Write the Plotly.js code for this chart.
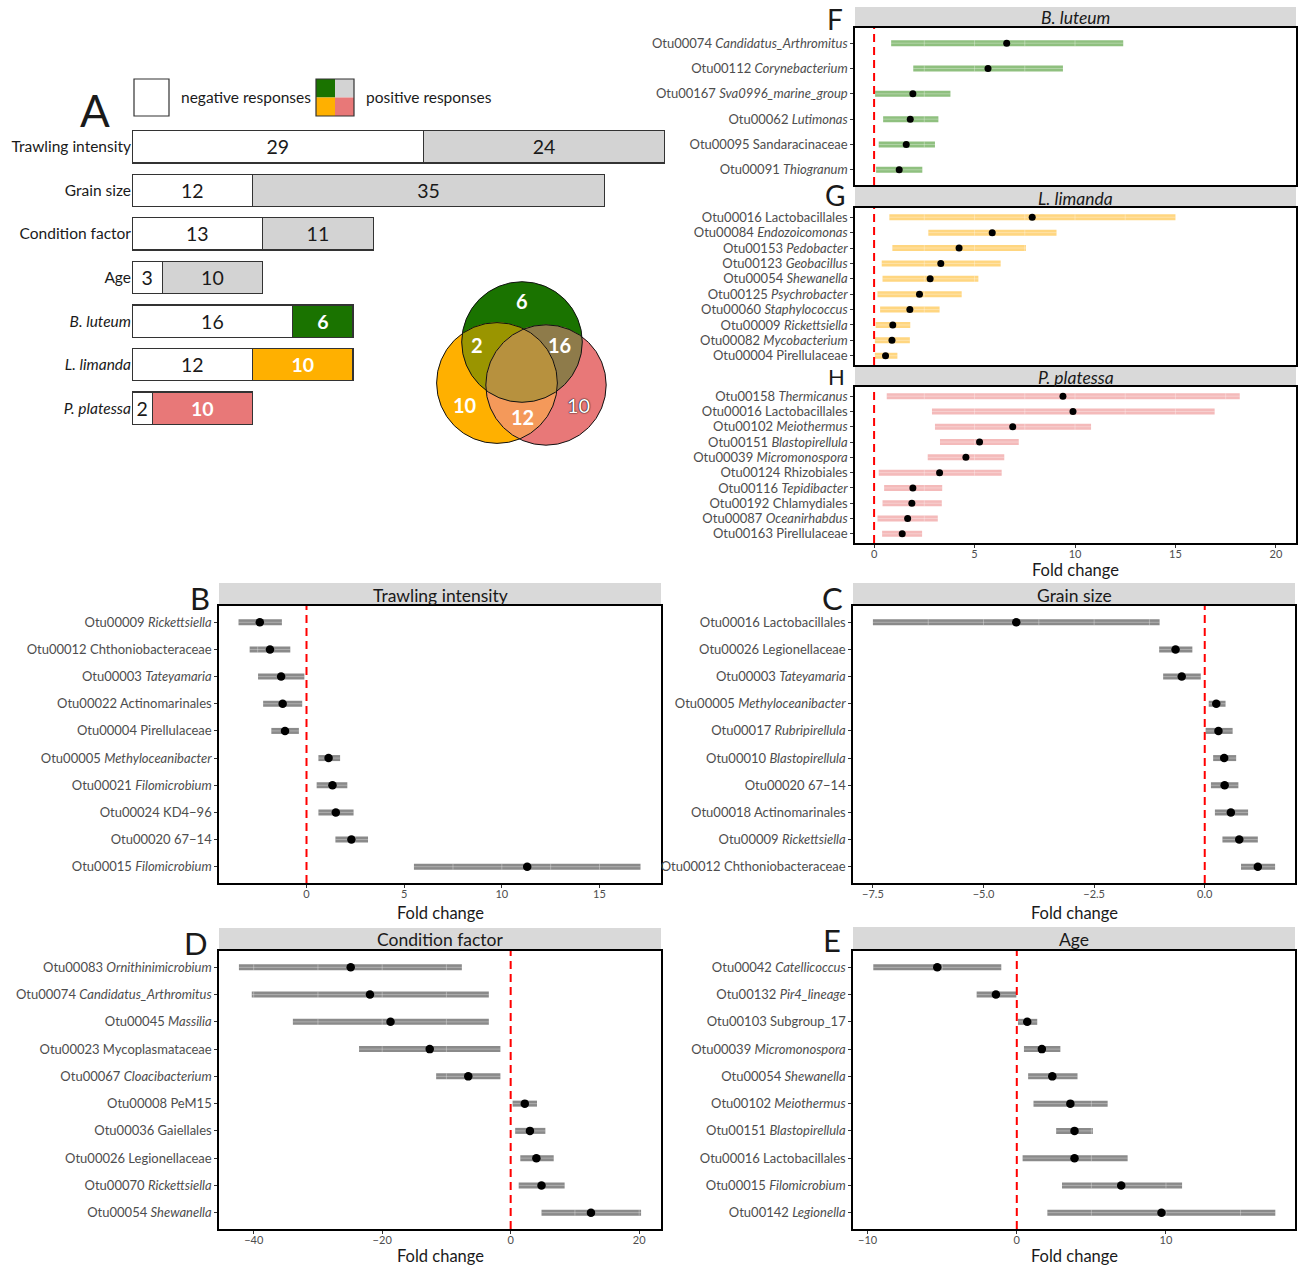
<!DOCTYPE html>
<html><head><meta charset="utf-8">
<script src="https://cdn.plot.ly/plotly-3.0.1.min.js"></script>
<style>html,body{margin:0;padding:0;background:#fff}</style>
</head><body><div id="chart" style="width:1306px;height:1267px"></div>
<script>
// ---------------- DATA ----------------
// Panel A: number of responding OTUs
const aCategories = ['Trawling intensity','Grain size','Condition factor','Age','<i>B. luteum</i>','<i>L. limanda</i>','<i>P. platessa</i>'];
const aNegative = [29,12,13,3,16,12,2];
const aPositive = [24,35,11,10,6,10,10];
const aPosColors = ['#d3d3d3','#d3d3d3','#d3d3d3','#d3d3d3','#1a7300','#ffb000','#e87878'];
const aColoredText = [false,false,false,false,true,true,true];

// Venn counts: B.luteum only, B∩L, B∩P, L only, L∩P, P only
const vennRegions = ['B only','B∩L','B∩P','L only','L∩P','P only'];
const vennCounts = [6,2,16,10,12,10];

// Panel F: B. luteum
const fLabels = ['Otu00074 <i>Candidatus_Arthromitus</i>','Otu00112 <i>Corynebacterium</i>','Otu00167 <i>Sva0996_marine_group</i>','Otu00062 <i>Lutimonas</i>','Otu00095 Sandaracinaceae','Otu00091 <i>Thiogranum</i>'];
const fLo  = [0.85,1.95,0.05,0.45,0.23,0.10];
const fMid = [6.6,5.67,1.93,1.8,1.6,1.25];
const fHi  = [12.4,9.4,3.8,3.2,3.03,2.4];

// Panel G: L. limanda
const gLabels = ['Otu00016 Lactobacillales','Otu00084 <i>Endozoicomonas</i>','Otu00153 <i>Pedobacter</i>','Otu00123 <i>Geobacillus</i>','Otu00054 <i>Shewanella</i>','Otu00125 <i>Psychrobacter</i>','Otu00060 <i>Staphylococcus</i>','Otu00009 <i>Rickettsiella</i>','Otu00082 <i>Mycobacterium</i>','Otu00004 Pirellulaceae'];
const gLo  = [0.76,2.7,0.91,0.38,0.42,0.17,0.3,0.08,0.04,0.04];
const gMid = [7.87,5.88,4.23,3.32,2.79,2.26,1.78,0.93,0.89,0.57];
const gHi  = [15.0,9.08,7.56,6.3,5.19,4.36,3.26,1.8,1.78,1.16];

// Panel H: P. platessa
const hLabels = ['Otu00158 <i>Thermicanus</i>','Otu00016 Lactobacillales','Otu00102 <i>Meiothermus</i>','Otu00151 <i>Blastopirellula</i>','Otu00039 <i>Micromonospora</i>','Otu00124 Rhizobiales','Otu00116 <i>Tepidibacter</i>','Otu00192 Chlamydiales','Otu00087 <i>Oceanirhabdus</i>','Otu00163 Pirellulaceae'];
const hLo  = [0.63,2.88,3.03,3.28,2.67,0.23,0.5,0.42,0.17,0.4];
const hMid = [9.4,9.9,6.9,5.25,4.57,3.26,1.93,1.88,1.67,1.4];
const hHi  = [18.2,16.95,10.8,7.2,6.48,6.35,3.39,3.37,3.17,2.39];

// Panel B: Trawling intensity
const bLabels = ['Otu00009 <i>Rickettsiella</i>','Otu00012 Chthoniobacteraceae','Otu00003 <i>Tateyamaria</i>','Otu00022 Actinomarinales','Otu00004 Pirellulaceae','Otu00005 <i>Methyloceanibacter</i>','Otu00021 <i>Filomicrobium</i>','Otu00024 KD4\u221296','Otu00020 67\u221214','Otu00015 <i>Filomicrobium</i>'];
const bLo  = [-3.48,-2.91,-2.48,-2.22,-1.8,0.61,0.52,0.61,1.48,5.5];
const bMid = [-2.39,-1.87,-1.3,-1.22,-1.1,1.13,1.33,1.5,2.3,11.3];
const bHi  = [-1.26,-0.83,-0.11,-0.22,-0.39,1.72,2.09,2.41,3.15,17.1];

// Panel C: Grain size
const cLabels = ['Otu00016 Lactobacillales','Otu00026 Legionellaceae','Otu00003 <i>Tateyamaria</i>','Otu00005 <i>Methyloceanibacter</i>','Otu00017 <i>Rubripirellula</i>','Otu00010 <i>Blastopirellula</i>','Otu00020 67\u221214','Otu00018 Actinomarinales','Otu00009 <i>Rickettsiella</i>','Otu00012 Chthoniobacteraceae'];
const cLo  = [-7.5,-1.03,-0.94,0.09,0.02,0.19,0.14,0.23,0.4,0.82];
const cMid = [-4.26,-0.66,-0.52,0.26,0.31,0.44,0.45,0.59,0.78,1.2];
const cHi  = [-1.02,-0.28,-0.09,0.47,0.63,0.71,0.76,0.98,1.2,1.59];

// Panel D: Condition factor
const dLabels = ['Otu00083 <i>Ornithinimicrobium</i>','Otu00074 <i>Candidatus_Arthromitus</i>','Otu00045 <i>Massilia</i>','Otu00023 Mycoplasmataceae','Otu00067 <i>Cloacibacterium</i>','Otu00008 PeM15','Otu00036 Gaiellales','Otu00026 Legionellaceae','Otu00070 <i>Rickettsiella</i>','Otu00054 <i>Shewanella</i>'];
const dLo  = [-42.3,-40.3,-33.9,-23.6,-11.6,0.3,0.7,1.5,1.25,4.8];
const dMid = [-24.9,-21.9,-18.7,-12.6,-6.6,2.2,3.0,4.0,4.8,12.5];
const dHi  = [-7.6,-3.4,-3.4,-1.6,-1.6,4.1,5.4,6.7,8.4,20.3];

// Panel E: Age
const eLabels = ['Otu00042 <i>Catellicoccus</i>','Otu00132 <i>Pir4_lineage</i>','Otu00103 Subgroup_17','Otu00039 <i>Micromonospora</i>','Otu00054 <i>Shewanella</i>','Otu00102 <i>Meiothermus</i>','Otu00151 <i>Blastopirellula</i>','Otu00016 Lactobacillales','Otu00015 <i>Filomicrobium</i>','Otu00142 <i>Legionella</i>'];
const eLo  = [-9.62,-2.69,0.08,0.48,0.76,1.12,2.64,0.39,3.03,2.05];
const eMid = [-5.33,-1.4,0.7,1.68,2.38,3.59,3.87,3.87,7.0,9.7];
const eHi  = [-1.04,-0.03,1.37,2.92,4.07,6.09,5.1,7.43,11.08,17.33];

// ---------------- LAYOUT HELPERS ----------------
const W = 1306, H = 1267;
const fx = p => p / W;
const fy = p => 1 - p / H;
const FONT = 'Lato, "Open Sans", sans-serif';

const traces = [];
const shapes = [];
const annotations = [];
const layout = {
  width: W, height: H,
  margin: {l:0, r:0, t:0, b:0},
  paper_bgcolor: '#fff', plot_bgcolor: 'rgba(0,0,0,0)',
  showlegend: false,
  font: {family: FONT, color: '#1a1a1a'},
  barmode: 'stack',
  shapes: shapes, annotations: annotations
};

function ann(x, y, text, size, opts) {
  annotations.push(Object.assign({
    xref:'paper', yref:'paper', x: fx(x), y: fy(y), text: text, showarrow:false,
    font:{family:FONT, size:size, color:'#1a1a1a'}, xanchor:'center', yanchor:'middle'
  }, opts || {}));
}

// ---------------- PANEL A (bars) ----------------
const aIdx = aCategories.map((_, i) => i);
layout.xaxis = {domain:[fx(132), fx(700)], range:[0, 56.52], anchor:'y', visible:false, fixedrange:true};
layout.yaxis = {domain:[fy(430), fy(125)], range:[6.5,-0.5], anchor:'x', tickvals:aIdx, ticktext:aCategories,
  ticks:'', showline:false, showgrid:false, zeroline:false, tickfont:{size:15.5, color:'#1a1a1a', family:FONT}, fixedrange:true};
traces.push({type:'bar', orientation:'h', x:aNegative, y:aIdx, xaxis:'x', yaxis:'y', width:0.74,
  marker:{color:'#ffffff', line:{color:'#333', width:1.2}},
  text:aNegative.map(String), textposition:'inside', insidetextanchor:'middle', constraintext:'none',
  textfont:{size:19.5, color:'#1a1a1a', family:FONT}, hoverinfo:'skip', cliponaxis:false});
traces.push({type:'bar', orientation:'h', x:aPositive, y:aIdx, xaxis:'x', yaxis:'y', width:0.74,
  marker:{color:aPosColors, line:{color:'#333', width:1.2}},
  text:aPositive.map((v,i) => aColoredText[i] ? '<b>' + v + '</b>' : String(v)),
  textposition:'inside', insidetextanchor:'middle', constraintext:'none',
  textfont:{size:19.5, color:aColoredText.map(c => c ? '#ffffff' : '#1a1a1a'), family:FONT}, hoverinfo:'skip', cliponaxis:false});

// legend of panel A
shapes.push({type:'rect', xref:'paper', yref:'paper', x0:fx(134), x1:fx(169), y0:fy(116), y1:fy(79), fillcolor:'#fff', line:{color:'#333', width:1.2}});
const quad = [[316,335,79,97.5,'#1a7300'],[335,354,79,97.5,'#d3d3d3'],[316,335,97.5,116,'#ffb000'],[335,354,97.5,116,'#e87878']];
quad.forEach(q => shapes.push({type:'rect', xref:'paper', yref:'paper', x0:fx(q[0]), x1:fx(q[1]), y0:fy(q[3]), y1:fy(q[2]), fillcolor:q[4], line:{width:0}}));
shapes.push({type:'rect', xref:'paper', yref:'paper', x0:fx(316), x1:fx(354), y0:fy(116), y1:fy(79), fillcolor:'rgba(0,0,0,0)', line:{color:'#333', width:1.2}});
ann(179, 97, 'negative responses', 15.5, {xanchor:'left'});
ann(364, 97, 'positive responses', 15.5, {xanchor:'left'});

// ---------------- VENN ----------------
const vennCircles = [
  {cx:522, cy:342, r:60.3, color:'#1a7300'},
  {cx:497, cy:383, r:60.4, color:'#ffb000'},
  {cx:546, cy:385, r:60.2, color:'#e87878'}
];
function insideC(p, c) { return (p[0]-c.cx)**2 + (p[1]-c.cy)**2 <= c.r*c.r + 1e-6; }
function regionPath(set) {
  const pts = [];
  set.forEach(ci => {
    const c = vennCircles[ci];
    for (let k = 0; k < 720; k++) {
      const a = k / 720 * 2 * Math.PI;
      const p = [c.cx + c.r*Math.cos(a), c.cy + c.r*Math.sin(a)];
      if (set.every(cj => cj === ci || insideC(p, vennCircles[cj]))) pts.push(p);
    }
  });
  const mx = pts.reduce((s,p)=>s+p[0],0)/pts.length, my = pts.reduce((s,p)=>s+p[1],0)/pts.length;
  pts.sort((a,b) => Math.atan2(a[1]-my,a[0]-mx) - Math.atan2(b[1]-my,b[0]-mx));
  return 'M' + pts.map(p => fx(p[0]).toFixed(5) + ',' + fy(p[1]).toFixed(5)).join('L') + 'Z';
}
vennCircles.forEach(c => shapes.push({type:'circle', xref:'paper', yref:'paper',
  x0:fx(c.cx-c.r), x1:fx(c.cx+c.r), y0:fy(c.cy+c.r), y1:fy(c.cy-c.r), fillcolor:c.color, line:{width:0}}));
[[[0,1],'#9a9500'],[[0,2],'#8e7b4a'],[[1,2],'#f4995a'],[[0,1,2],'#b7913e']].forEach(r =>
  shapes.push({type:'path', xref:'paper', yref:'paper', path:regionPath(r[0]), fillcolor:r[1], line:{width:0}}));
vennCircles.forEach(c => shapes.push({type:'circle', xref:'paper', yref:'paper',
  x0:fx(c.cx-c.r), x1:fx(c.cx+c.r), y0:fy(c.cy+c.r), y1:fy(c.cy-c.r), fillcolor:'rgba(0,0,0,0)', line:{color:'#111', width:1}}));
const vennPos = [[522,301],[477,345],[559,345],[465,405],[522,417],[578,405]];
vennCounts.forEach((v,i) => {
  if (i === 5) {
    ann(vennPos[i][0], vennPos[i][1], String(v), 20, {font:{family:FONT, size:20, color:'#fff', shadow:'0 0 1.5px #000, 0 0 1px #000'}});
  } else {
    ann(vennPos[i][0], vennPos[i][1], '<b>' + v + '</b>', 20, {font:{family:FONT, size:20, color:'#fff'}});
  }
});

// ---------------- FOREST PANELS ----------------
const forest = [
  {k:2, labels:fLabels, lo:fLo, mid:fMid, hi:fHi, box:[855,1296,28,185], strip:[7,28], title:'<i>B. luteum</i>', range:[-0.95,21.0], dtick:5, minor:2.5, color:'#8fc07f', showX:false, pt:7, letter:['F',835,19,28]},
  {k:3, labels:gLabels, lo:gLo, mid:gMid, hi:gHi, box:[855,1296,208,365], strip:[187,207], title:'<i>L. limanda</i>', range:[-0.95,21.0], dtick:5, minor:2.5, color:'#ffd680', showX:false, pt:7, letter:['G',835,195,28]},
  {k:4, labels:hLabels, lo:hLo, mid:hMid, hi:hHi, box:[855,1296,387,543], strip:[366,386], title:'<i>P. platessa</i>', range:[-0.95,21.0], dtick:5, minor:2.5, color:'#f4baba', showX:true, pt:7, letter:['H',836,376,22], xt:570},
  {k:5, labels:bLabels, lo:bLo, mid:bMid, hi:bHi, box:[219,661,606,883], strip:[583,605], title:'Trawling intensity', range:[-4.48,18.15], dtick:5, minor:2.5, color:'#8a8a8a', showX:true, pt:8.5, letter:['B',200,598,31], xt:913},
  {k:6, labels:cLabels, lo:cLo, mid:cMid, hi:cHi, box:[853,1295,606,883], strip:[583,605], title:'Grain size', range:[-7.95,2.04], dtick:2.5, minor:1.25, color:'#8a8a8a', showX:true, pt:8.5, letter:['C',832,598,31], xt:913, fmt:'.1f'},
  {k:7, labels:dLabels, lo:dLo, mid:dMid, hi:dHi, box:[219,661,951,1229], strip:[928,950], title:'Condition factor', range:[-45.4,23.4], dtick:20, minor:10, color:'#8a8a8a', showX:true, pt:8.5, letter:['D',196,943,31], xt:1256},
  {k:8, labels:eLabels, lo:eLo, mid:eMid, hi:eHi, box:[853,1295,951,1229], strip:[927,950], title:'Age', range:[-10.98,18.65], dtick:10, minor:5, color:'#8a8a8a', showX:true, pt:8.5, letter:['E',832,940,31], xt:1256}
];

forest.forEach(p => {
  const n = p.labels.length;
  const idx = p.labels.map((_, i) => i);
  const xa = 'x' + p.k, ya = 'y' + p.k;
  const [x0, x1, y0, y1] = p.box;
  layout['xaxis' + p.k] = {
    domain:[fx(x0), fx(x1)], range:p.range, anchor:ya, showgrid:false, zeroline:false,
    showline:true, mirror:true, linecolor:'#000', linewidth:1.7,
    ticks: p.showX ? 'outside' : '', ticklen:3, tickcolor:'#333', tickwidth:1,
    showticklabels:p.showX, tick0:0, dtick:p.dtick, tickformat:p.fmt || '', ticklabelstandoff:-3,
    tickfont:{size:11, color:'#4d4d4d', family:FONT}, fixedrange:true
  };
  layout['yaxis' + p.k] = {
    domain:[fy(y1), fy(y0)], range:[n - 0.4, -0.6], anchor:xa, tickvals:idx, ticktext:p.labels,
    ticks:'outside', ticklen:3, tickcolor:'#333', tickwidth:1,
    showgrid:false, zeroline:false, showline:true, mirror:true, linecolor:'#000', linewidth:1.7,
    tickfont:{size:13, color:'#4d4d4d', family:FONT}, fixedrange:true
  };
  // interval bars
  const bx = [], by = [];
  p.lo.forEach((lo, i) => { bx.push(lo, p.hi[i], null); by.push(i, i, null); });
  traces.push({type:'scatter', mode:'lines', x:bx, y:by, xaxis:xa, yaxis:ya,
    line:{color:p.color, width:6}, hoverinfo:'skip'});
  // light grid lines showing through the bars
  const rowPx = (y1 - y0) / (n - 1 + 1.2);
  const d = 3 / rowPx;
  const gx = [], gy = [];
  p.lo.forEach((lo, i) => {
    const hi = p.hi[i];
    gx.push(lo, hi, null); gy.push(i, i, null);
    for (let m = Math.ceil(lo / p.minor) * p.minor; m < hi; m += p.minor) {
      if (m - lo < 0.02 * p.minor) continue;
      gx.push(m, m, null); gy.push(i - d, i + d, null);
    }
  });
  traces.push({type:'scatter', mode:'lines', x:gx, y:gy, xaxis:xa, yaxis:ya,
    line:{color:'rgba(255,255,255,0.32)', width:1}, hoverinfo:'skip'});
  // points
  traces.push({type:'scatter', mode:'markers', x:p.mid, y:idx, xaxis:xa, yaxis:ya,
    marker:{color:'#000', size:p.pt}, hoverinfo:'skip'});
  // zero reference line
  shapes.push({type:'line', xref:xa, yref:ya + ' domain', x0:0, x1:0, y0:0, y1:1,
    line:{color:'#ff0000', width:2, dash:'8px,5px'}, layer:'above'});
  // strip
  shapes.push({type:'rect', xref:'paper', yref:'paper', x0:fx(x0), x1:fx(x1), y0:fy(y0), y1:fy(p.strip[0]),
    fillcolor:'#d9d9d9', line:{width:0}, layer:'below'});
  ann((x0 + x1) / 2, (p.strip[0] + y0) / 2 + 0.5, p.title, 17.5);
  if (p.xt) ann((x0 + x1) / 2, p.xt, 'Fold change', 16.5);
  ann(p.letter[1], p.letter[2], p.letter[0], p.letter[3]);
});
ann(95, 110, 'A', 44);

Plotly.newPlot('chart', traces, layout, {staticPlot:true, displayModeBar:false});
</script></body></html>
